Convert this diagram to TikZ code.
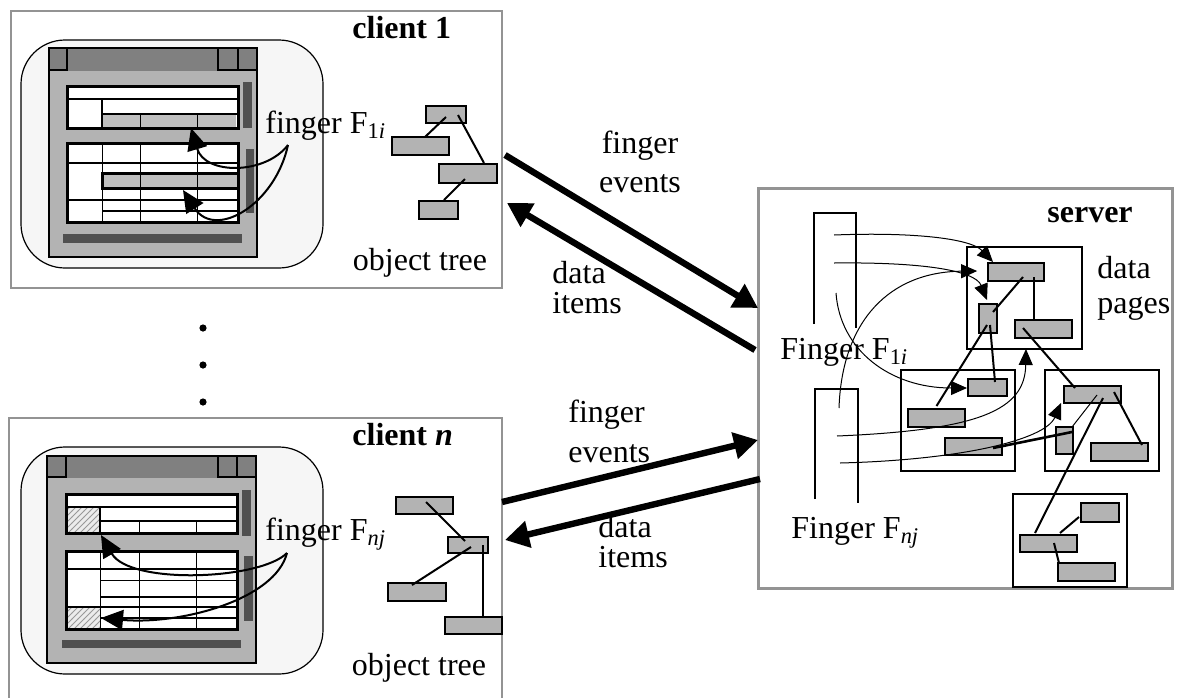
\documentclass[tikz,border=0pt]{standalone}
\usepackage{fontspec}
\setmainfont{Liberation Serif}
\usetikzlibrary{arrows.meta,fit,calc,patterns}
\newcommand\lblfont{\fontsize{16}{19}\selectfont}
\definecolor{barc}{HTML}{808080}
\definecolor{winc}{HTML}{B3B3B3}
\definecolor{scrc}{HTML}{505050}
\definecolor{boxc}{HTML}{B3B3B3}
\definecolor{roundc}{HTML}{F6F6F6}
\begin{document}
\begin{tikzpicture}[x=0.5pt,y=-0.5pt,
  outerbox/.style={draw=gray!85, line width=1pt},
  tbox/.style={draw, line width=0.9pt, fill=boxc, inner sep=0pt},
  pagebox/.style={draw, line width=0.85pt, inner sep=0pt},
  treeedge/.style={line width=1pt},
  thinarrow/.style={line width=0.5pt, -{Triangle[length=8pt,width=7pt]}},
  bigarrow/.style={line width=3.2pt, -{Triangle[length=12pt,width=13pt]}},
  clarrow/.style={line width=1pt, -{Triangle[length=11pt,width=10pt]}},
  lbl/.style={font=\lblfont, inner sep=0pt},
  tline/.style={line width=1.1pt},
  hairline/.style={line width=0.5pt},
  frame/.style={line width=1.5pt},
  dotcell/.style={fill=gray!50},
  hatchcell/.style={pattern=north east lines, pattern color=gray!80}
]
\useasboundingbox (0,0) rectangle (1178,697);

%% ================= client 1 =================
\draw[outerbox] (11,11) rectangle (502,288);
\node[lbl, anchor=base west, font=\lblfont\bfseries] (c1title) at (352,38) {client 1};
\draw[fill=roundc, line width=0.6pt, rounded corners=22pt] (21,40) rectangle (323,268);
% window
\fill[winc] (49,48) rectangle (257,257);
\fill[barc] (49,48) rectangle (257,71);
\draw[line width=1pt] (49,48) rectangle (257,257);
\draw[line width=1pt, fill=barc] (49,48) rectangle (67,70);
\draw[line width=1pt, fill=barc] (218,48) rectangle (238,70);
\draw[line width=1pt, fill=barc] (238,48) rectangle (257,70);
% scrollbars
\fill[scrc] (243,82) rectangle (252,128);
\fill[scrc] (246,149) rectangle (254,213);
\fill[scrc] (63,234) rectangle (242,243);
% upper table
\fill[white] (67,86) rectangle (238,128);
\fill[dotcell] (102,114) rectangle (236,128);
\draw[tline] (67,99) -- (238,99);
\draw[tline] (102,99) -- (102,128);
\draw[tline] (102,114) -- (238,114);
\draw[hairline] (140,114) -- (140,128);
\draw[hairline] (197,114) -- (197,128);
\draw[frame] (67,86) rectangle (238,128);
% lower table
\fill[white] (67,143) rectangle (238,222);
\fill[dotcell] (102,173) rectangle (238,188);
\draw[tline] (67,163) -- (238,163);
\draw[tline] (67,200) -- (238,200);
\draw[tline] (102,211) -- (238,211);
\draw[hairline] (102,143) -- (102,222);
\draw[hairline] (140,143) -- (140,222);
\draw[hairline] (197,143) -- (197,222);
\draw[frame] (102,173) rectangle (238,188);
\draw[frame] (67,143) rectangle (238,222);
% finger label and arrows
\node[lbl, anchor=base west] (f1lbl) at (265,133) {finger F\textsubscript{1\textit{i}}};
\coordinate (f1src) at (288,145);
\coordinate (f1dstA) at (191,128);
\coordinate (f1dstB) at (183,190);
\draw[clarrow] (f1src) .. controls (265,175) and (205,175) .. (f1dstA);
\draw[clarrow] (f1src) .. controls (275,205) and (215,240) .. (f1dstB);
% object tree
\node[tbox, fit={(426,106)(466,123)}] (t1) {};
\node[tbox, fit={(392,137)(449,155)}] (t2) {};
\node[tbox, fit={(439,164)(497,183)}] (t3) {};
\node[tbox, fit={(419,201)(458,219)}] (t4) {};
\draw[treeedge] ($(t1)+(0,2.5)$) -- ($(t2)+(4.5,-9)$);
\draw[treeedge] ($(t1)+(12,0.5)$) -- ($(t3)+(16,-10.5)$);
\draw[treeedge] ($(t3)+(-3,5.5)$) -- ($(t4)+(5.5,-10)$);
\node[lbl, anchor=base] (ot1) at (420,270) {object tree};

%% ================= dots =================
\fill (203,328) circle (1.8pt);
\fill (203,365) circle (1.8pt);
\fill (203,402) circle (1.8pt);

%% ================= client n =================
\draw[outerbox] (9,700) -- (9,418) -- (502,418) -- (502,700);
\node[lbl, anchor=base west, font=\lblfont\bfseries] (cntitle) at (352,445) {client \textit{n}};
\draw[fill=roundc, line width=0.6pt, rounded corners=22pt] (21,447) rectangle (323,674);
\fill[winc] (47,456) rectangle (256,663);
\fill[barc] (47,456) rectangle (256,478);
\draw[line width=1pt] (47,456) rectangle (256,663);
\draw[line width=1pt, fill=barc] (47,456) rectangle (66,477);
\draw[line width=1pt, fill=barc] (218,456) rectangle (237,477);
\draw[line width=1pt, fill=barc] (237,456) rectangle (256,477);
\fill[scrc] (242,490) rectangle (251,536);
\fill[scrc] (244,556) rectangle (253,621);
\fill[scrc] (62,640) rectangle (241,648);
% upper table
\fill[white] (66,494) rectangle (237,533);
\fill[gray!15] (66,507) rectangle (100,533);
\fill[hatchcell] (66,507) rectangle (100,533);
\draw[tline] (66,507) -- (237,507);
\draw[tline] (100,507) -- (100,533);
\draw[tline] (100,521) -- (237,521);
\draw[hairline] (139,521) -- (139,533);
\draw[hairline] (196,521) -- (196,533);
\draw[frame] (66,494) rectangle (237,533);
% lower table
\fill[white] (66,551) rectangle (237,629);
\fill[gray!15] (66,607) rectangle (100,629);
\fill[hatchcell] (66,607) rectangle (100,629);
\draw[tline] (66,569) -- (237,569);
\draw[hairline] (100,580) -- (237,580);
\draw[tline] (100,597) -- (237,597);
\draw[tline] (66,607) -- (237,607);
\draw[tline] (100,618) -- (237,618);
\draw[hairline] (100,551) -- (100,629);
\draw[hairline] (139,551) -- (139,629);
\draw[hairline] (196,551) -- (196,629);
\draw[frame] (66,551) rectangle (237,629);
% finger label and arrows
\node[lbl, anchor=base west] (fnlbl) at (265,540) {finger F\textsubscript{\textit{nj}}};
\coordinate (fnsrc) at (287,553);
\coordinate (fndstA) at (101,535);
\coordinate (fndstB) at (101,618);
\draw[clarrow] (fnsrc) .. controls (260,580) and (130,585) .. (fndstA);
\draw[clarrow] (fnsrc) .. controls (275,600) and (180,625) .. (fndstB);
% object tree
\node[tbox, fit={(396,497)(453,514)}] (u1) {};
\node[tbox, fit={(448,537)(488,553)}] (u2) {};
\node[tbox, fit={(388,583)(446,601)}] (u3) {};
\node[tbox, fit={(445,617)(502,634)}] (u4) {};
\draw[treeedge] ($(u1)+(1.5,-3.5)$) -- ($(u2)+(-3,-4)$);
\draw[treeedge] ($(u2)+(3,2)$) -- ($(u3)+(-5,-7)$);
\draw[line width=1.3pt] ($(u2)+(15,0)$) -- ($(u4)+(9.5,-8.5)$);
\node[lbl, anchor=base] (otn) at (419,675) {object tree};

%% ================= server =================
\draw[outerbox, line width=1.5pt] (758,188) rectangle (1172,588);
\node[lbl, anchor=base west, font=\lblfont\bfseries] (srvtitle) at (1047,222) {server};
\node[lbl, anchor=base west, align=left, font=\fontsize{16}{17.5}\selectfont] (dpages) at (1097,313) {data\\pages};
% finger tables
\draw[line width=1pt] (814,324) -- (814,213) -- (856,213) -- (856,328);
\draw[line width=1pt] (815,499) -- (815,389) -- (858,389) -- (858,503);
\node[lbl, anchor=base west] (sf1) at (780,359) {Finger F\textsubscript{1\textit{i}}};
\node[lbl, anchor=base west] (sfn) at (791,538) {Finger F\textsubscript{\textit{nj}}};
% pages
\node[pagebox, fit={(967,247)(1082,349)}] (p1) {};
\node[pagebox, fit={(901,370)(1015,471)}] (p2) {};
\node[pagebox, fit={(1045,370)(1159,471)}] (p3) {};
\node[pagebox, fit={(1013,494)(1127,587)}] (p4) {};
% data items
\node[tbox, fit={(988,263)(1044,281)}] (a) {};
\node[tbox, fit={(979,304)(997,333)}] (b) {};
\node[tbox, fit={(1015,320)(1072,338)}] (c) {};
\node[tbox, fit={(968,379)(1007,396)}] (d) {};
\node[tbox, fit={(908,409)(965,427)}] (e) {};
\node[tbox, fit={(945,438)(1002,455)}] (f) {};
\node[tbox, fit={(1064,386)(1121,403)}] (g) {};
\node[tbox, fit={(1056,427)(1073,454)}] (h) {};
\node[tbox, fit={(1091,443)(1148,461)}] (i) {};
\node[tbox, fit={(1081,503)(1119,522)}] (j) {};
\node[tbox, fit={(1020,535)(1077,552)}] (k) {};
\node[tbox, fit={(1058,563)(1115,581)}] (l) {};
% tree edges
\draw[treeedge] ($(a)+(7,5)$) -- ($(b)+(5,-6.5)$);
\draw[treeedge] ($(a)+(18,5)$) -- ($(c)+(-9.5,-8)$);
\draw[treeedge] ($(b)+(-1,6.5)$) -- ($(e)+(0,-12)$);
\draw[treeedge] ($(b)+(2,6.5)$) -- ($(d)+(7.5,-5.5)$);
\draw[treeedge] ($(c)+(-20.5,-1)$) -- ($(g)+(-17.5,-6.5)$);
\draw[treeedge] ($(g)+(21.5,-2.5)$) -- ($(i)+(22.5,-7)$);
\draw[hairline] ($(g)+(4.5,0.5)$) -- ($(h)+(7.5,-13.5)$);
\draw[treeedge] ($(g)+(10.5,3.5)$) -- ($(k)+(-13.5,-10.5)$);
\draw[line width=1.3pt] ($(f)+(19.5,1.5)$) -- ($(h)+(7.5,-8.5)$);
\draw[treeedge] ($(k)+(11.5,-10.5)$) -- ($(j)+(-21,4.5)$);
\draw[treeedge] ($(k)+(5.5,-0.5)$) -- ($(l)+(-27.5,-9)$);
% finger pointers
\coordinate (s1) at (834,235);
\coordinate (s2) at (834,263);
\coordinate (s3) at (836,293);
\coordinate (s4) at (839,408);
\coordinate (s5) at (837,436);
\coordinate (s6) at (840,463);
\draw[thinarrow] (s1) .. controls (910,232) and (970,238) .. ($(a)+(-23,-10)$);
\draw[thinarrow] (s2) .. controls (920,262) and (975,270) .. ($(b)+(-1,-18.5)$);
\draw[thinarrow] (s3) .. controls (840,350) and (890,388) .. ($(d)+(-20.5,0.5)$);
\draw[thinarrow] (s4) .. controls (842,320) and (890,272) .. ($(p1.west)+(11,-27)$);
\draw[thinarrow] (s5) .. controls (980,430) and (1025,410) .. ($(c)+(-17.5,20)$);
\draw[thinarrow] (s6) .. controls (960,460) and (1045,440) .. ($(g)+(-31.5,8.5)$);

%% ================= connectors =================
\coordinate (m1a) at (505,155);
\coordinate (m1b) at (758,308);
\coordinate (m2a) at (755,350);
\coordinate (m2b) at (507,203);
\coordinate (m3a) at (502,502);
\coordinate (m3b) at (758,440);
\coordinate (m4a) at (760,479);
\coordinate (m4b) at (505,540);
\draw[bigarrow] (m1a) -- (m1b);
\draw[bigarrow] (m2a) -- (m2b);
\draw[bigarrow] (m3a) -- (m3b);
\draw[bigarrow] (m4a) -- (m4b);
\node[lbl, anchor=base, align=center, font=\fontsize{16}{19.5}\selectfont] (fe1) at (640,192) {finger\\events};
\node[lbl, anchor=base west, align=left, font=\fontsize{16}{15}\selectfont] (di1) at (552,313) {data\\items};
\node[lbl, anchor=base west, align=left, font=\fontsize{16}{20}\selectfont] (fe2) at (568,462) {finger\\events};
\node[lbl, anchor=base west, align=left, font=\fontsize{16}{15}\selectfont] (di2) at (598,567) {data\\items};
\end{tikzpicture}
\end{document}
